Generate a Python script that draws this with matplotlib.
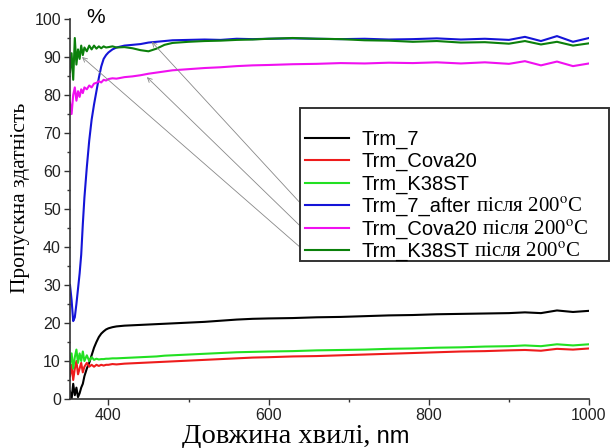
import matplotlib
matplotlib.use('Agg')
import matplotlib.pyplot as plt
from matplotlib.patches import Rectangle
from matplotlib.lines import Line2D
from matplotlib.ticker import MultipleLocator

plt.rcParams['font.family'] = ['Liberation Sans', 'DejaVu Sans']
plt.rcParams['mathtext.fontset'] = 'stix'

# спільна сітка довжин хвиль, nm
wl = [352, 354, 356, 358, 360, 362, 364, 366, 368, 370,
      373, 376, 379, 382, 385, 388, 391, 394, 397, 400,
      405, 410, 420, 430, 440, 450, 460, 470, 480,
      500, 520, 540, 560, 580, 600,
      630, 660, 690, 720, 750, 780, 810, 840, 870, 900,
      920, 940, 960, 980, 1000]

trm_7 = [2, 0, 4, 1, 3, 0.5, 1.5, 3, 4, 6,
         8, 9.5, 11.5, 13.5, 15, 16.3, 17.2, 17.8, 18.3, 18.6,
         18.9, 19.1, 19.3, 19.4, 19.5, 19.6, 19.7, 19.8, 19.9,
         20.1, 20.3, 20.6, 20.9, 21.1, 21.2,
         21.3, 21.5, 21.6, 21.8, 22.0, 22.1, 22.3, 22.4, 22.5, 22.6,
         22.8, 22.6, 23.3, 22.9, 23.2]

trm_cova20 = [6, 9, 5, 8, 10, 6.5, 8, 9.5, 7, 8.5,
              9.5, 8.5, 9, 8.5, 9, 8.7, 9, 8.8, 9, 9,
              9.2, 9.1, 9.3, 9.4, 9.5, 9.6, 9.7, 9.8, 9.9,
              10.1, 10.3, 10.5, 10.7, 10.9, 11.0,
              11.2, 11.3, 11.5, 11.7, 11.9, 12.1, 12.3, 12.5, 12.6, 12.8,
              12.9, 12.7, 13.2, 13.0, 13.3]

trm_k38st = [9, 12, 8, 11, 13, 9.5, 12, 10, 12.5, 10,
             11.5, 10, 11, 10.3, 10.6, 10.4, 10.5, 10.5, 10.6, 10.6,
             10.7, 10.7, 10.8, 10.9, 11.0, 11.1, 11.2, 11.4, 11.5,
             11.7, 11.9, 12.1, 12.3, 12.4, 12.5,
             12.6, 12.8, 12.9, 13.0, 13.2, 13.3, 13.5, 13.6, 13.8, 13.9,
             14.1, 13.9, 14.4, 14.1, 14.4]

trm_7_after = [30, 26, 20.5, 21.5, 25, 29, 33, 38, 46, 53,
               61, 68, 73.5, 77.5, 81, 84.5, 87.5, 89.5, 90.5, 91.2,
               92, 92.5, 93, 93.2, 93.4, 93.8, 94, 94.2, 94.4,
               94.5, 94.6, 94.5, 94.8, 94.7, 94.8,
               94.9, 94.8, 94.7, 94.8, 94.6, 94.7, 94.9, 94.6, 94.8, 94.5,
               95.3, 94.2, 95.5, 94.0, 95.0]

trm_cova20_200 = [78, 75, 80, 82, 78.5, 81, 79.5, 81.5, 80.5, 82,
                  81.5, 82.5, 82, 83, 83.2, 83.6, 83.3, 84, 83.8, 84.2,
                  84.4, 84.3, 84.7, 84.9, 85.2, 85.6, 85.9, 86.2, 86.5,
                  86.8, 87.1, 87.3, 87.6, 87.8, 87.9,
                  88.1, 88.2, 88.4, 88.3, 88.5, 88.4, 88.6, 88.3, 88.6, 88.2,
                  88.9, 87.8, 88.8, 87.6, 88.3]

trm_k38st_200 = [86, 91, 84, 95, 88, 92, 89.5, 93, 90.5, 92.5,
                 91.5, 93, 92, 93, 92.2, 92.8, 92.3, 92.8, 92.5, 92.6,
                 92.8, 92.5, 92.6, 92.3, 91.8, 91.5, 92.2, 93.2, 93.7,
                 94, 94.2, 94.3, 94.5, 94.6, 94.8,
                 95.0, 94.8, 94.7, 94.4, 94.3, 94.0, 94.2, 93.8, 93.9, 93.5,
                 94.2, 93.3, 94.0, 93.0, 93.6]

series = [
    ('Trm_7', '', trm_7, '#000000'),
    ('Trm_Cova20', '', trm_cova20, '#ee1c1c'),
    ('Trm_K38ST', '', trm_k38st, '#22e022'),
    ('Trm_7_after', ' після 200$^{\\mathrm{o}}$C', trm_7_after, '#1414d8'),
    ('Trm_Cova20', ' після 200$^{\\mathrm{o}}$C', trm_cova20_200, '#f010f0'),
    ('Trm_K38ST', ' після 200$^{\\mathrm{o}}$C', trm_k38st_200, '#0b800b'),
]

# стрілки: (хвіст у легенді) -> (точка на кривій)
arrows = [((642, 51.0), (454, 94.0)),
          ((642, 45.0), (448, 84.7)),
          ((645, 38.9), (367, 90.0))]

fig = plt.figure(figsize=(6.12, 4.48), dpi=100)
ax = fig.add_axes([70 / 612, 1 - 399 / 448, 519 / 612, 380 / 448])

for name, suffix, vals, col in series:
    ax.plot(wl, vals, color=col, lw=1.5)

ax.set_xlim(352, 1000)
ax.set_ylim(0, 100)
ax.xaxis.set_major_locator(MultipleLocator(200))
ax.xaxis.set_minor_locator(MultipleLocator(100))
ax.yaxis.set_major_locator(MultipleLocator(10))
ax.yaxis.set_minor_locator(MultipleLocator(5))
for s in ['top', 'right']:
    ax.spines[s].set_visible(False)
for s in ['left', 'bottom']:
    ax.spines[s].set_color('#333333')
    ax.spines[s].set_linewidth(1.2)
ax.tick_params(which='major', length=4.5, width=1, color='#333333',
               labelsize=11.5, labelcolor='#222222', pad=2)
ax.tick_params(which='minor', length=2.5, width=1, color='#333333')

ax.set_ylabel('Пропускна здатність', family='Liberation Serif', fontsize=15.5)
ax.yaxis.set_label_coords(-0.078, 0.53)
ax.text(0.05, 1.005, '%', transform=ax.transAxes, fontsize=15,
        ha='center', va='center')

# підпис осі X: серифна частина + "nm"
xl = fig.text(182 / 612, 1 - 443 / 448, 'Довжина хвилі,',
              family='Liberation Serif', fontsize=20.5, va='baseline')

for (tail, head) in arrows:
    ax.annotate('', xy=head, xytext=tail,
                arrowprops=dict(arrowstyle='->', color='#888888', lw=0.6,
                                shrinkA=0, shrinkB=0, mutation_scale=8))

# рамка легенди
box = Rectangle((300 / 612, 1 - 261 / 448), 309 / 612, 153 / 448,
                transform=fig.transFigure, facecolor='white',
                edgecolor='#333333', lw=1.4, zorder=5)
fig.add_artist(box)

handles = [Line2D([], [], color=c, lw=1.5) for _, _, _, c in series]
labels = [n for n, _, _, _ in series]
leg = fig.legend(handles, labels, loc='center left',
                 bbox_to_anchor=(305 / 612, 1 - 195.5 / 448),
                 frameon=False, fontsize=14.5, handlelength=2.2,
                 handletextpad=0.6, labelspacing=0.16, borderpad=0,
                 borderaxespad=0)
leg.set_zorder(6)

fig.canvas.draw()
for txt, (_, suffix, _, _) in zip(leg.get_texts(), series):
    if not suffix:
        continue
    bb = txt.get_window_extent()
    x0, y0 = txt.get_transform().transform(txt.get_position())
    fig.text(bb.x1, y0, suffix, transform=None, family='Liberation Serif',
             fontsize=15, ha='left', va='baseline', zorder=7)

bb = xl.get_window_extent()
y0 = xl.get_transform().transform(xl.get_position())[1]
fig.text(bb.x1, y0, ' nm', transform=None, fontsize=17,
         ha='left', va='baseline')

fig.savefig('out.png', dpi=100)
